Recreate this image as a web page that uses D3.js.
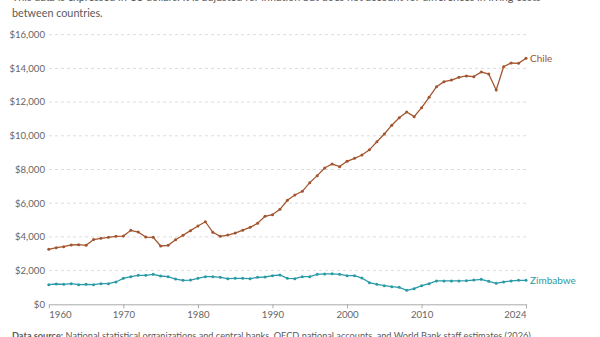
<!DOCTYPE html>
<html><head><meta charset="utf-8">
<script src="https://cdn.jsdelivr.net/npm/d3@7/dist/d3.min.js"></script>
<style>
html,body{margin:0;padding:0;background:#fff;}
svg{display:block;font-family:Lato,"Noto Sans",sans-serif;}
</style></head>
<body>
<svg id="chart" width="600" height="337"></svg>
<script>
const years = d3.range(1960, 2025);
const chile = [3264,3360,3420,3520,3540,3500,3840,3915,3975,4035,
  4050,4390,4290,3990,3975,3460,3500,3835,4095,4370,
  4645,4900,4270,4035,4110,4230,4400,4570,4805,5220,
  5320,5635,6170,6485,6705,7220,7635,8090,8325,8170,
  8485,8665,8860,9165,9650,10105,10630,11075,11410,11135,
  11670,12285,12915,13210,13310,13470,13550,13510,13785,13670,
  12720,14100,14320,14300,14600];
const zimbabwe = [1165,1205,1187,1225,1165,1187,1165,1225,1225,1325,
  1540,1640,1720,1720,1780,1680,1640,1500,1420,1440,
  1540,1640,1640,1600,1520,1540,1540,1520,1600,1620,
  1700,1740,1540,1520,1640,1640,1780,1800,1810,1780,
  1700,1700,1560,1285,1187,1105,1045,1010,830,925,
  1105,1225,1385,1385,1385,1385,1405,1440,1480,1365,
  1245,1325,1385,1420,1420];
const seriesNames = ["Chile", "Zimbabwe"];
const xTicks = [1960,1970,1980,1990,2000,2010,2024];
const yTicks = [0,2000,4000,6000,8000,10000,12000,14000,16000];
const subtitleLines = ["This data is expressed in US dollars. It is adjusted for inflation but does not account for differences in living costs","between countries."];

const colors = {Chile:"#a2552e", Zimbabwe:"#2a9aa7"};
const svg = d3.select("#chart");
const x = d3.scaleLinear().domain([1960,2024]).range([48.8,526]);
const y = d3.scaleLinear().domain([0,16000]).range([304.3,34.7]);

// subtitle
svg.append("g").selectAll("text").data(subtitleLines).join("text")
  .attr("x",12).attr("y",(d,i)=>1+i*15.5)
  .attr("font-size",10.8).attr("fill","#5b5b5b").text(d=>d);

// grid
svg.append("g").selectAll("line").data(yTicks.filter(d=>d>0)).join("line")
  .attr("x1",49).attr("x2",526).attr("y1",d=>y(d)).attr("y2",d=>y(d))
  .attr("stroke","#dcdcdc").attr("stroke-dasharray","3,3").attr("stroke-width",1);

// y labels
svg.append("g").selectAll("text").data(yTicks).join("text")
  .attr("x",45).attr("y",d=>y(d)).attr("dy","0.35em").attr("text-anchor","end")
  .attr("font-size",9.6).attr("fill","#666")
  .text(d=>"$"+d3.format(",")(d));

// x axis
const xAxis = d3.axisBottom(x).tickValues(xTicks).tickFormat(d3.format("d")).tickSize(4).tickSizeOuter(0);
const gx = svg.append("g").attr("transform","translate(0,304.3)").call(xAxis);
gx.select(".domain").attr("stroke","#aaa");
gx.selectAll(".tick line").attr("stroke","#aaa");
gx.selectAll(".tick text").attr("font-size",9.6).attr("fill","#666")
  .attr("font-family","Lato,'Noto Sans',sans-serif").attr("y",7)
  .attr("text-anchor",d=>d===1960?"start":(d===2024?"end":"middle"));

const data = {Chile:chile, Zimbabwe:zimbabwe};
const line = d3.line().x((d,i)=>x(years[i])).y(d=>y(d));
seriesNames.forEach(name=>{
  const vals = data[name];
  svg.append("path").datum(vals).attr("d",line).attr("fill","none")
    .attr("stroke",colors[name]).attr("stroke-width",1.3);
  svg.append("g").selectAll("circle").data(vals).join("circle")
    .attr("cx",(d,i)=>x(years[i])).attr("cy",d=>y(d)).attr("r",1.5)
    .attr("fill",colors[name]);
  svg.append("text").attr("x",x(2024)+4).attr("y",y(vals[vals.length-1]))
    .attr("dy","0.35em").attr("font-size",10).attr("fill",colors[name]).text(name);
});

// footer
const ft = svg.append("text").attr("x",12).attr("y",339).attr("font-size",9.2).attr("fill","#5b5b5b");
ft.append("tspan").attr("font-weight","bold").text("Data source:");
ft.append("tspan").text(" National statistical organizations and central banks, OECD national accounts, and World Bank staff estimates (2026)");
</script>
</body></html>
